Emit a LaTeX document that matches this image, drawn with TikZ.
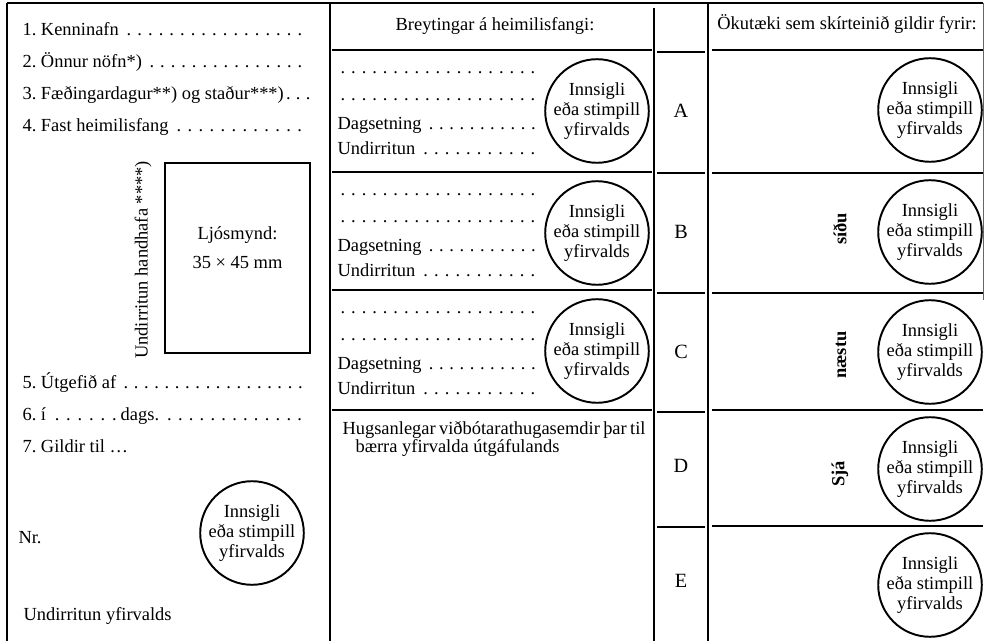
\documentclass[tikz,border=0pt]{standalone}
\usepackage{fontspec}
\setmainfont{Liberation Serif}
\frenchspacing
\newcommand\dotline{\xleaders\hbox to 5.8pt{\hss.\hss}\hskip 0pt plus 1filll\relax}
\newcommand\pushright{\hskip 0pt plus 1filll\relax}
\newcommand\sealtxt{Innsigli\\eða stimpill\\yfirvalds}

\begin{document}
\begin{tikzpicture}[x=0.02cm, y=-0.02cm, line width=0.6pt, font=\fontsize{10.5}{12.5}\selectfont,
  txt/.style={anchor=base west, inner sep=0pt},
  seal/.style={circle, draw, line width=1.1pt, minimum size=1.84cm, inner sep=0pt,
    align=center, font=\fontsize{10.5}{11.5}\selectfont},
  letter/.style={inner sep=0pt, font=\fontsize{11.5}{12}\selectfont},
  turned/.style={rotate=90, inner sep=0pt, font=\fontsize{10.5}{12}\bfseries}]
\useasboundingbox (0,0) rectangle (986,641);

% Frame
\draw (7,3) -- (983,3);
\draw (7,3) -- (7,641);
\draw (330,3) -- (330,641);
\draw (654,8) -- (654,641);
\draw (708,3) -- (708,641);
\draw [line width=0.3pt, black!60] (983,3) -- (983,300);

% Rules
\foreach \y in {50,172,290,410} {
    \draw (332,\y) -- (652,\y);
}
\foreach \y in {52,173,293,412,527} {
    \draw (657,\y) -- (705,\y);
}
\foreach \y in {50,173,293,410,526} {
    \draw (712,\y) -- (983,\y);
}

% Left column
\node [txt] (kenni) at (22,36) {\makebox[5.66cm][l]{1. Kenninafn \dotline}};
\node [txt] (onnur) at (22,68) {\makebox[5.66cm][l]{2. Önnur nöfn*) \dotline}};
\node [txt] (faed) at (22,100) {\makebox[5.76cm][l]{3. Fæðingardagur**) og staður***)\pushright.\hspace{3pt}.\hspace{3pt}.}};
\node [txt] (fast) at (22,132) {\makebox[5.66cm][l]{4. Fast heimilisfang \dotline}};
\node (photo) at (237.5,258) [draw, minimum width=2.9cm, minimum height=3.8cm] {};
\node (photolbl) at (237.5,248) [align=center, inner sep=0pt] {Ljósmynd:\\[4pt]35 × 45 mm};
\node (handhafi) at (143,260) [rotate=90, inner sep=0pt] {Undirritun handhafa ****)};
\node [txt] (utgef) at (22,388) {\makebox[5.66cm][l]{5. Útgefið af \dotline}};
\node [txt] (dags) at (22,420) {\makebox[5.66cm][l]{6. í \makebox[1.4cm]{\dotline}dags. \dotline}};
\node [txt] (gildir) at (22,452) {7. Gildir til \ldots};
\node [txt] (nr) at (18,543) {Nr.};
\node [seal, minimum size=1.76cm] (sealL) at (252,533) {\sealtxt};
\node [txt] (yfir) at (23,620) {Undirritun yfirvalds};

% Middle column
\node (breyt) at (495,31) [anchor=base, inner sep=0pt] {Breytingar á heimilisfangi:};
\foreach \t/\n in {50/A,172/B,290/C} {
    \node [txt] (dotsa\n) at (337,\t+24) {\makebox[4.02cm][l]{\dotline}};
    \node [txt] (dotsb\n) at (337,\t+51) {\makebox[4.02cm][l]{\dotline}};
    \node [txt] (dagset\n) at (337,\t+80) {\makebox[4.02cm][l]{Dagsetning \dotline}};
    \node [txt] (undir\n) at (337,\t+105) {\makebox[4.02cm][l]{Undirritun \dotline}};
    \node [seal] (seal\n) at (597,\t+61) {\sealtxt};
}
\node [txt] (note1) at (342,434) {\makebox[6.06cm][s]{Hugsanlegar viðbótarathugasemdir þar til}};
\node [txt] (note2) at (355,452) {bærra yfirvalda útgáfulands};

% Letters
\foreach \y/\n in {111/A,232/B,352/C,466/D,581/E} {
    \node [letter] (let\n) at (681,\y) {\n};
}

% Right column
\node (okut) at (847,30) [anchor=base, inner sep=0pt] {Ökutæki sem skírteinið gildir fyrir:};
\foreach \y [count=\i] in {110,232,352,469,585} {
    \node [seal] (car\i) at (930,\y) {\sealtxt};
}
\node [turned] (sidu) at (840,229) {síðu};
\node [turned] (naestu) at (841,355) {næstu};
\node [turned] (sja) at (840,474) {Sjá};

\end{tikzpicture}
\end{document}
